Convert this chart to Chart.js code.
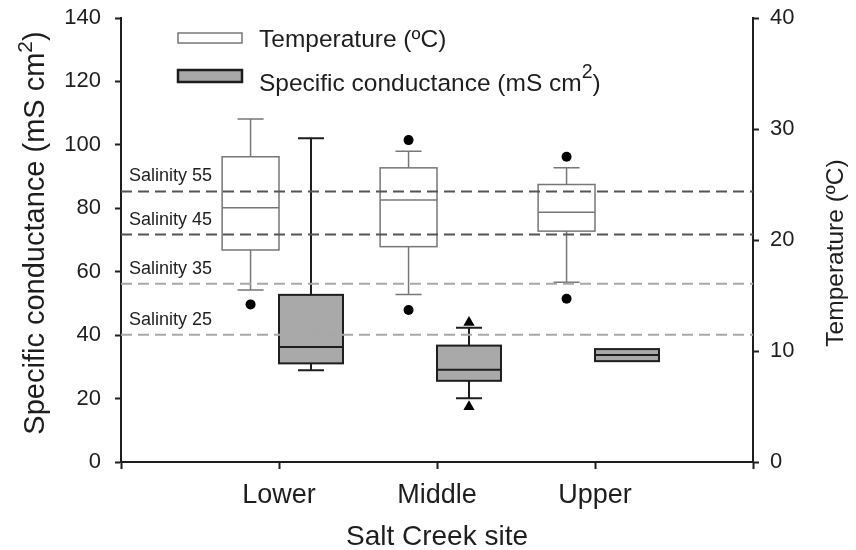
<!DOCTYPE html>
<html>
<head>
<meta charset="utf-8">
<script src="https://cdn.jsdelivr.net/npm/chart.js@4.4.0/dist/chart.umd.min.js"></script>
<style>
  html, body { margin: 0; padding: 0; background: #fff; }
</style>
</head>
<body>
<canvas id="chart" width="856" height="550"></canvas>
<script>
// --- Dane ---
const sites = ['Lower', 'Middle', 'Upper'];

// Temperatura (prawa oś, ºC)
const tempMin = [15.5, 15.1, 16.2];
const tempQ1 = [19.1, 19.4, 20.8];
const tempMedian = [22.9, 23.6, 22.5];
const tempQ3 = [27.5, 26.5, 25.0];
const tempMax = [30.9, 28.0, 26.5];
const tempOutliers = [[14.2], [29.0, 13.7], [27.5, 14.7]];

// Przewodność (lewa oś)
const condMin = [28.9, 20.1, 31.8];
const condQ1 = [31.1, 25.6, 31.8];
const condMedian = [36.3, 29.1, 33.7];
const condQ3 = [52.7, 36.7, 35.6];
const condMax = [102.1, 42.3, 35.6];
const condExtremes = [[], [44.0, 17.4], []];

const salinityLabels = ['Salinity 55', 'Salinity 45', 'Salinity 35', 'Salinity 25'];
const salinityLevels = [85.3, 71.7, 56.2, 40.1];

const condTicks = [0, 20, 40, 60, 80, 100, 120, 140];
const tempTicks = [0, 10, 20, 30, 40];

const FONT = '"Liberation Sans", Arial, sans-serif';
const INK = '#1e1e1e';
const GREY_FILL = '#a9a9a9';

// --- Pomocnicze ---
function drawSuper(ctx, x, y, size, parts, align) {
  // parts: [tekst, skala, uniesienie]
  let total = 0;
  parts.forEach(p => {
    ctx.font = `${size * p[1]}px ${FONT}`;
    total += ctx.measureText(p[0]).width;
  });
  let cx = align === 'center' ? x - total / 2 : x;
  ctx.textAlign = 'left';
  ctx.textBaseline = 'alphabetic';
  parts.forEach(p => {
    ctx.font = `${size * p[1]}px ${FONT}`;
    ctx.fillText(p[0], cx, y - size * p[2]);
    cx += ctx.measureText(p[0]).width;
  });
}

function drawBox(ctx, xs, ys, x0, x1, lo, q1, med, q3, hi, st) {
  const L = xs.getPixelForValue(x0), R = xs.getPixelForValue(x1);
  const mid = (L + R) / 2;
  const cap = (xs.getPixelForValue(0.165) - xs.getPixelForValue(0)) / 2;
  const yQ1 = ys.getPixelForValue(q1), yQ3 = ys.getPixelForValue(q3);
  const yMed = ys.getPixelForValue(med);
  ctx.save();
  ctx.lineWidth = st.width;
  ctx.strokeStyle = st.stroke;
  ctx.fillStyle = st.fill;
  // wąsy
  ctx.beginPath();
  if (hi > q3) {
    const yHi = ys.getPixelForValue(hi);
    ctx.moveTo(mid, yQ3); ctx.lineTo(mid, yHi);
    ctx.moveTo(mid - cap, yHi); ctx.lineTo(mid + cap, yHi);
  }
  if (lo < q1) {
    const yLo = ys.getPixelForValue(lo);
    ctx.moveTo(mid, yQ1); ctx.lineTo(mid, yLo);
    ctx.moveTo(mid - cap, yLo); ctx.lineTo(mid + cap, yLo);
  }
  ctx.stroke();
  // pudełko
  ctx.fillRect(L, yQ3, R - L, yQ1 - yQ3);
  ctx.strokeRect(L, yQ3, R - L, yQ1 - yQ3);
  ctx.beginPath();
  ctx.moveTo(L, yMed); ctx.lineTo(R, yMed);
  ctx.stroke();
  ctx.restore();
}

const TEMP_STYLE = { stroke: '#777', fill: 'rgba(255,255,255,0)', width: 1.5 };
const COND_STYLE = { stroke: INK, fill: GREY_FILL, width: 2 };

const boxPlugin = {
  id: 'boxPlot',
  beforeDatasetsDraw(chart) {
    const { ctx, scales: { x, y, y2 } } = chart;
    sites.forEach((s, i) => {
      const c = i + 1;
      drawBox(ctx, x, y2, c - 0.36, c, tempMin[i], tempQ1[i], tempMedian[i], tempQ3[i], tempMax[i], TEMP_STYLE);
      drawBox(ctx, x, y, c, c + 0.405, condMin[i], condQ1[i], condMedian[i], condQ3[i], condMax[i], COND_STYLE);
    });
  },
  afterDraw(chart) {
    const { ctx, chartArea: a, scales: { y } } = chart;
    ctx.save();
    ctx.fillStyle = INK;

    // Etykiety zasolenia
    ctx.font = `18px ${FONT}`;
    ctx.textAlign = 'left';
    ctx.textBaseline = 'alphabetic';
    salinityLabels.forEach((t, i) => {
      ctx.fillText(t, a.left + 8, y.getPixelForValue(salinityLevels[i]) - 10);
    });

    // Legenda
    ctx.lineWidth = 1.5;
    ctx.strokeStyle = '#777';
    ctx.fillStyle = '#fff';
    ctx.fillRect(a.left + 57, 33, 64, 10);
    ctx.strokeRect(a.left + 57, 33, 64, 10);
    ctx.lineWidth = 2.5;
    ctx.strokeStyle = INK;
    ctx.fillStyle = GREY_FILL;
    ctx.fillRect(a.left + 57, 70, 64, 12);
    ctx.strokeRect(a.left + 57, 70, 64, 12);
    ctx.fillStyle = INK;
    drawSuper(ctx, a.left + 138, 47, 24.5, [['Temperature (ºC)', 1, 0]], 'left');
    drawSuper(ctx, a.left + 138, 91, 24.5, [['Specific conductance (mS cm', 1, 0], ['2', 0.8, 0.55], [')', 1, 0]], 'left');

    // Tytuły osi
    ctx.save();
    ctx.translate(44, 233);
    ctx.rotate(-Math.PI / 2);
    drawSuper(ctx, 0, 0, 29, [['Specific conductance (mS cm', 1, 0], ['2', 0.72, 0.42], [')', 1, 0]], 'center');
    ctx.restore();

    ctx.save();
    ctx.translate(843, 253);
    ctx.rotate(-Math.PI / 2);
    drawSuper(ctx, 0, 0, 24.5, [['Temperature (ºC)', 1, 0]], 'center');
    ctx.restore();

    drawSuper(ctx, (a.left + a.right) / 2, 545, 28, [['Salt Creek site', 1, 0]], 'center');
    ctx.restore();
  }
};

// --- Zbiory danych ---
const datasets = [];

salinityLevels.forEach((lvl, i) => {
  datasets.push({
    label: salinityLabels[i],
    data: [{ x: 0, y: lvl }, { x: 4, y: lvl }],
    showLine: true,
    pointRadius: 0,
    borderColor: i < 2 ? '#555' : '#a8a8a8',
    borderWidth: 2,
    borderDash: [11, 6],
    yAxisID: 'y'
  });
});

datasets.push({
  label: 'Temperature outliers',
  data: tempOutliers.flatMap((vals, i) => vals.map(v => ({ x: i + 1 - 0.18, y: v }))),
  pointStyle: 'circle',
  pointRadius: 5,
  backgroundColor: '#000',
  borderColor: '#000',
  borderWidth: 0,
  yAxisID: 'y2'
});

datasets.push({
  label: 'Conductance extremes',
  data: condExtremes.flatMap((vals, i) => vals.map(v => ({ x: i + 1 + 0.2025, y: v }))),
  pointStyle: 'triangle',
  pointRadius: 6.5,
  backgroundColor: '#000',
  borderColor: '#000',
  borderWidth: 0,
  yAxisID: 'y'
});

const tickFont = size => ({ family: FONT, size: size });
const noPad = s => { s.paddingTop = 0; s.paddingBottom = 0; };

new Chart(document.getElementById('chart'), {
  type: 'scatter',
  data: { datasets },
  plugins: [boxPlugin],
  options: {
    responsive: false,
    animation: false,
    devicePixelRatio: 1,
    layout: { padding: { top: 18, left: 0, right: 0, bottom: 0 } },
    plugins: {
      legend: { display: false },
      tooltip: { enabled: false }
    },
    scales: {
      x: {
        type: 'linear',
        min: 0,
        max: 4,
        afterFit: s => { s.height = 88; s.paddingLeft = 0; s.paddingRight = 0; },
        afterBuildTicks: s => { s.ticks = [0, 1, 2, 3, 4].map(v => ({ value: v })); },
        ticks: {
          callback: v => sites[v - 1] || '',
          font: tickFont(27),
          color: INK,
          padding: 10,
          maxRotation: 0,
          autoSkip: false
        },
        grid: { drawOnChartArea: false, tickLength: 7, tickColor: INK, tickWidth: 2 },
        border: { color: INK, width: 2 }
      },
      y: {
        position: 'left',
        min: 0,
        max: 140,
        afterFit: s => { s.width = 121; noPad(s); },
        afterBuildTicks: s => { s.ticks = condTicks.map(v => ({ value: v })); },
        ticks: { font: tickFont(22), color: INK, padding: 14 },
        grid: { drawOnChartArea: false, tickLength: 6, tickColor: INK, tickWidth: 2 },
        border: { color: INK, width: 2 }
      },
      y2: {
        position: 'right',
        min: 0,
        max: 40,
        afterFit: s => { s.width = 103; noPad(s); },
        afterBuildTicks: s => { s.ticks = tempTicks.map(v => ({ value: v })); },
        ticks: { font: tickFont(22), color: INK, padding: 11 },
        grid: { drawOnChartArea: false, tickLength: 6, tickColor: INK, tickWidth: 2 },
        border: { color: INK, width: 2 }
      }
    }
  }
});
</script>
</body>
</html>
